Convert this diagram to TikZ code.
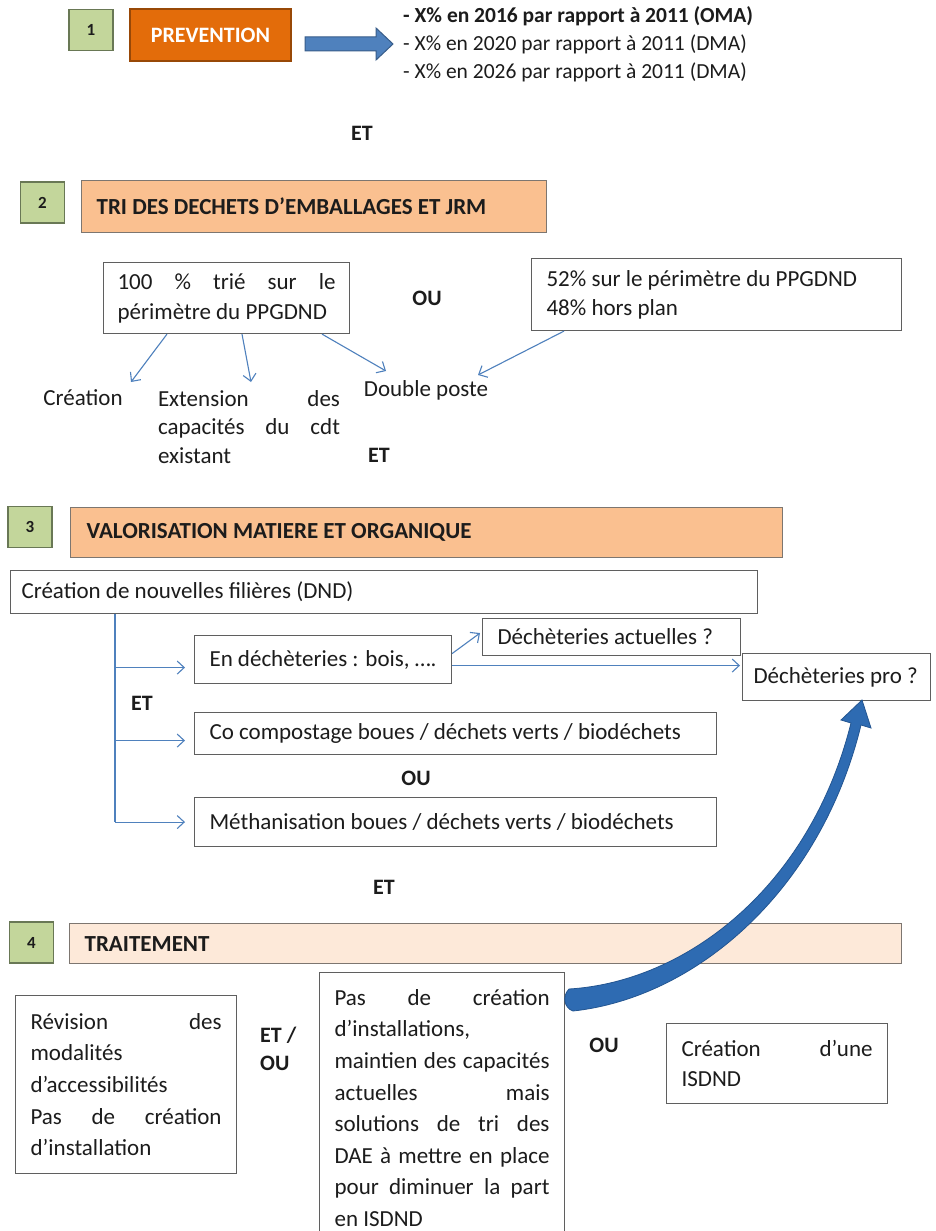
\documentclass[tikz,border=0pt]{standalone}
\usepackage{fontspec}
\setmainfont{Carlito}
\usetikzlibrary{arrows.meta,calc}
\definecolor{gfill}{RGB}{195,214,155}
\definecolor{gdraw}{RGB}{105,120,85}
\definecolor{ofill}{RGB}{227,108,10}
\definecolor{odraw}{RGB}{152,72,7}
\definecolor{barfill}{RGB}{250,192,144}
\definecolor{barlight}{RGB}{253,233,217}
\definecolor{bardraw}{RGB}{125,118,112}
\definecolor{boxc}{RGB}{95,95,95}
\definecolor{connc}{RGB}{79,129,189}
\definecolor{bfill}{RGB}{79,129,189}
\definecolor{bdraw}{RGB}{56,93,138}
\definecolor{cfill}{RGB}{46,107,178}
\definecolor{cdraw}{RGB}{35,85,145}
\definecolor{txt}{RGB}{28,28,28}
\newcommand{\jl}[1]{\makebox[\hsize][s]{#1}}
\begin{document}
\begin{tikzpicture}[x=1pt,y=-1pt,
  every node/.style={font=\fontsize{23}{31.6}\selectfont, text=txt},
  numbox/.style={draw=gdraw, fill=gfill, line width=1.3pt, minimum width=44pt, minimum height=41pt, inner sep=0pt, font=\fontsize{17}{20}\selectfont\bfseries},
  barbox/.style={draw=bardraw, line width=1.3pt, anchor=north west, inner xsep=15pt, inner ysep=0pt, align=flush left, font=\fontsize{23}{26}\selectfont\bfseries},
  box/.style={draw=boxc, line width=1.1pt, fill=white, anchor=north west, inner xsep=15pt, inner ysep=0pt, align=flush left},
  lbl/.style={inner sep=0pt},
  kw/.style={inner sep=0pt, font=\fontsize{22}{28}\selectfont\bfseries},
  conn/.style={draw=connc, line width=1.1pt, -{Straight Barb[length=7pt,width=13pt]}},
  connline/.style={draw=connc, line width=1.1pt},
]
\useasboundingbox[fill=white] (0,0) rectangle (936,1231);

% ---------- 1 ----------
\node[numbox] (g1) at (91,30) {1};
\node[draw=odraw, fill=ofill, line width=1.3pt, minimum width=161pt, minimum height=52pt, inner sep=0pt, text=white, font=\fontsize{22}{26}\selectfont\bfseries] (prev) at (210.5,35) {PREVENTION};
\filldraw[fill=bfill, draw=bdraw, line width=1pt] (305,37) -- (376,37) -- (376,28) -- (393,44) -- (376,60) -- (376,51) -- (305,51) -- cycle;
\node[lbl, anchor=west, align=flush left, font=\fontsize{21.5}{28}\selectfont] (plist) at (403,44)
  {\textbf{- X\% en 2016 par rapport à 2011 (OMA)}\\- X\% en 2020 par rapport à 2011 (DMA)\\- X\% en 2026 par rapport à 2011 (DMA)};
\node[kw] (et1) at (362,133) {ET};

% ---------- 2 ----------
\node[numbox] (g2) at (42.5,202.5) {2};
\node[barbox, fill=barfill, minimum height=52pt, text width=435pt] (bar2) at (81,180) {TRI DES DECHETS D’EMBALLAGES ET JRM};
\node[box, minimum height=71pt, text width=218pt, inner xsep=14pt, font=\fontsize{23}{30}\selectfont] (boxA) at (103,262)
  {\jl{100 \% trié sur le}\\périmètre du PPGDND};
\node[kw] (ou1) at (427,298) {OU};
\node[box, minimum height=72pt, text width=340pt, font=\fontsize{23}{29}\selectfont] (boxB) at (531,258)
  {52\% sur le périmètre du PPGDND\\48\% hors plan};
\node[lbl] (crea) at (83,398) {Création};
\node[lbl, text width=182pt, align=flush left, font=\fontsize{23}{28.5}\selectfont] (ext) at (249,427)
  {\jl{Extension des}\\\jl{capacités du cdt}\\existant};
\node[lbl] (dbl) at (426,390) {Double poste};
\node[kw] (et2) at (379,455) {ET};
\coordinate (t1) at (131,382);
\coordinate (t2) at (251,382);
\coordinate (t3) at (386,371);
\coordinate (t4) at (478,375);
\draw[conn] ($(boxA.south west)+(64,0)$) -- (t1);
\draw[conn] ($(boxA.south west)+(139,0)$) -- (t2);
\draw[conn] ($(boxA.south west)+(219,0)$) -- (t3);
\draw[conn] ($(boxB.south west)+(33,0)$) -- (t4);

% ---------- 3 ----------
\node[numbox] (g3) at (30,527) {3};
\node[barbox, fill=barfill, minimum height=50pt, text width=680pt, inner xsep=16pt] (bar3) at (70,507) {VALORISATION MATIERE ET ORGANIQUE};
\node[box, minimum height=43pt, text width=725pt, inner xsep=11pt] (dnd) at (10,570) {Création de nouvelles filières (DND)};
\node[box, minimum height=48pt, text width=227pt] (en) at (194,635) {En déchèteries : bois, ….};
\node[box, minimum height=37pt, text width=228pt] (act) at (482,618) {Déchèteries actuelles ?};
\node[box, minimum height=47pt, text width=166pt, inner xsep=11pt] (pro) at (742,653) {Déchèteries pro ?};
\node[kw] (et3) at (142,703) {ET};
\node[box, minimum height=42pt, text width=492pt] (co) at (194,712) {Co compostage boues / déchets verts / biodéchets};
\node[kw] (ou2) at (416,778) {OU};
\node[box, minimum height=49pt, text width=492pt] (met) at (194,797) {Méthanisation boues / déchets verts / biodéchets};
\node[kw] (et4) at (384,887) {ET};

\coordinate (vtop) at ($(dnd.south west)+(105,0)$);
\coordinate (vbot) at (vtop |- met.west);
\draw[connline] (vtop) -- (vbot);
\draw[conn] ($(vtop |- en.west)+(0,8)$) -- ($(en.west)+(-9,8)$);
\draw[conn] ($(vtop |- co.west)+(0,7)$) -- ($(co.west)+(-9,7)$);
\draw[conn] (vbot) -- ($(met.west)+(-9,0)$);
\draw[conn] ($(en.east)+(0,-6)$) -- ($(act.west)+(-2,-4)$);
\draw[conn] ($(en.east)+(0,6)$) -- ($(en.east -| pro.west)+(-2,6)$);

% ---------- 4 ----------
\node[numbox] (g4) at (31.5,942.5) {4};
\node[barbox, fill=barlight, minimum height=40pt, text width=802pt] (bar4) at (69,923) {TRAITEMENT};
\node[box, minimum height=178pt, text width=191pt] (rev) at (15,995)
  {\jl{Révision des}\\modalités\\d’accessibilités\\\jl{Pas de création}\\d’installation};
\node[kw, anchor=west, align=flush left] (etou) at (260,1049) {ET /\\OU};
\node[box, minimum height=271pt, text width=215pt] (pas) at (319,972)
  {\jl{Pas de création}\\d’installations,\\\jl{maintien des capacités}\\\jl{actuelles mais}\\\jl{solutions de tri des}\\\jl{DAE à mettre en place}\\\jl{pour diminuer la part}\\en ISDND};
\node[kw] (ou3) at (604,1045) {OU};
\node[box, minimum height=80pt, text width=191pt, font=\fontsize{23}{30}\selectfont] (isd) at (666,1023)
  {\jl{Création d’une}\\ISDND};

% curved block arrow from "pas" up to "pro"
\filldraw[fill=cfill, draw=cdraw, line width=0.8pt]
  (569,989) .. controls (686,982) and (810,887) .. (851,723)
  -- (841,720) -- (862,700) -- (871,728) -- (861,725)
  .. controls (820,893) and (694,998) .. (573,1011)
  .. controls (564,1008) and (562,996) .. (569,989) -- cycle;
\end{tikzpicture}
\end{document}
